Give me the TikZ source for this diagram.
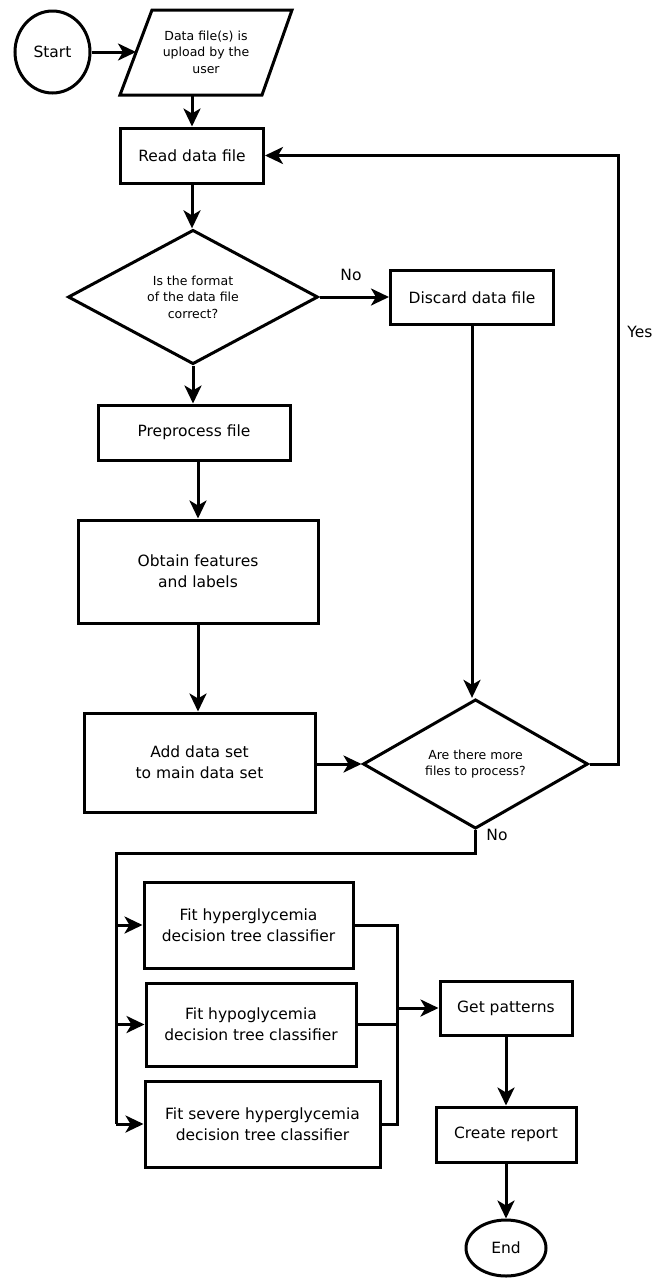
\documentclass[tikz,border=0pt]{standalone}
\usepackage{fontspec}
\setmainfont{DejaVu Sans}
\usetikzlibrary{arrows.meta,shapes.geometric}
\begin{document}
\begin{tikzpicture}[x=1pt,y=-1pt,
  lw/.style={line width=3pt},
  box/.style={draw,lw,align=center,inner sep=0pt,font=\fontsize{15.5}{21}\selectfont},
  dia/.style={draw,lw,diamond,align=center,inner sep=0pt,font=\fontsize{12.5}{16.5}\selectfont},
  term/.style={draw,lw,ellipse,inner sep=0pt,font=\fontsize{15.5}{21}\selectfont},
  arr/.style={lw,-{Stealth[length=18pt,width=17pt,inset=5pt]}},
  lbl/.style={font=\fontsize{15.5}{21}\selectfont,inner sep=0pt}]
\useasboundingbox (0,0) rectangle (656,1278);
% nodes
\node[term,minimum width=75pt,minimum height=82pt] (start) at (52.5,52) {Start};
\draw[lw] (152,10) -- (292,10) -- (262,95) -- (120,95) -- cycle;
\coordinate (dataL) at (136,52);
\coordinate (dataB) at (192,95);
\node[align=center,font=\fontsize{12.5}{16.5}\selectfont,inner sep=0pt] (data) at (206,52) {Data file(s) is\\upload by the\\user};
\node[box,minimum width=143pt,minimum height=55pt] (read) at (192,155.5) {Read data file};
\node[dia,minimum width=250pt,minimum height=130pt] (dec1) at (193,297) {Is the format\\of the data file\\correct?};
\node[box,minimum width=163pt,minimum height=54pt] (discard) at (472,297.5) {Discard data file};
\node[box,minimum width=192pt,minimum height=55pt] (prep) at (194,432.5) {Preprocess file};
\node[box,minimum width=240pt,minimum height=103pt] (obtain) at (198,571.5) {Obtain features\\and labels};
\node[box,minimum width=231pt,minimum height=99pt] (add) at (199.5,762.5) {Add data set\\to main data set};
\node[dia,minimum width=225pt,minimum height=114pt] (dec2) at (475.5,764) {Are there more\\files to process?};
\node[box,minimum width=209pt,minimum height=86pt] (hyper) at (248.5,925) {Fit hyperglycemia\\decision tree classifier};
\node[box,minimum width=210pt,minimum height=83pt] (hypo) at (251,1024.5) {Fit hypoglycemia\\decision tree classifier};
\node[box,minimum width=235pt,minimum height=86pt] (severe) at (262.5,1124) {Fit severe hyperglycemia\\decision tree classifier};
\node[box,minimum width=132pt,minimum height=54pt] (get) at (506,1008) {Get patterns};
\node[box,minimum width=140pt,minimum height=55pt] (report) at (506,1134.5) {Create report};
\node[term,minimum width=80pt,minimum height=56pt] (end) at (506,1248) {End};
% labels
\node[lbl] (no1) at (351,275) {No};
\node[lbl] (yes) at (640,332) {Yes};
\node[lbl] (no2) at (497,835) {No};
% connectors
\draw[arr] (start.east) -- (dataL);
\draw[arr] (dataB) -- (dataB |- read.north);
\draw[arr] (read.south) -- (read.south |- dec1.north);
\draw[arr] (dec1.east) -- (discard.west |- dec1.east);
\draw[arr] (discard.south) -- (discard.south |- dec2.north);
\draw[arr] (dec1.south) -- (dec1.south |- prep.north);
\draw[arr] (obtain.north |- prep.south) -- (obtain.north);
\draw[arr] (obtain.south) -- (obtain.south |- add.north);
\draw[arr] (add.east |- dec2.west) -- (dec2.west);
\coordinate (yesR) at (618,764);
\draw[arr] (dec2.east) -- (yesR) -- (yesR |- read.east) -- (read.east);
\coordinate (noB) at (475.5,853);
\coordinate (busL) at (116,853);
\draw[lw] (dec2.south) -- (noB) -- (busL) -- (busL |- severe.west);
\draw[arr] (busL |- hyper.west) -- (hyper.west);
\draw[arr] (busL |- hypo.west) -- (hypo.west);
\draw[arr] (busL |- severe.west) -- (severe.west);
\coordinate (busR) at (397,925);
\draw[lw] (hyper.east) -- (busR) -- (busR |- severe.east) -- (severe.east);
\draw[lw] (hypo.east) -- (busR |- hypo.east);
\draw[arr] (busR |- get.west) -- (get.west);
\draw[arr] (get.south) -- (report.north);
\draw[arr] (report.south) -- (end.north);
\end{tikzpicture}
\end{document}
